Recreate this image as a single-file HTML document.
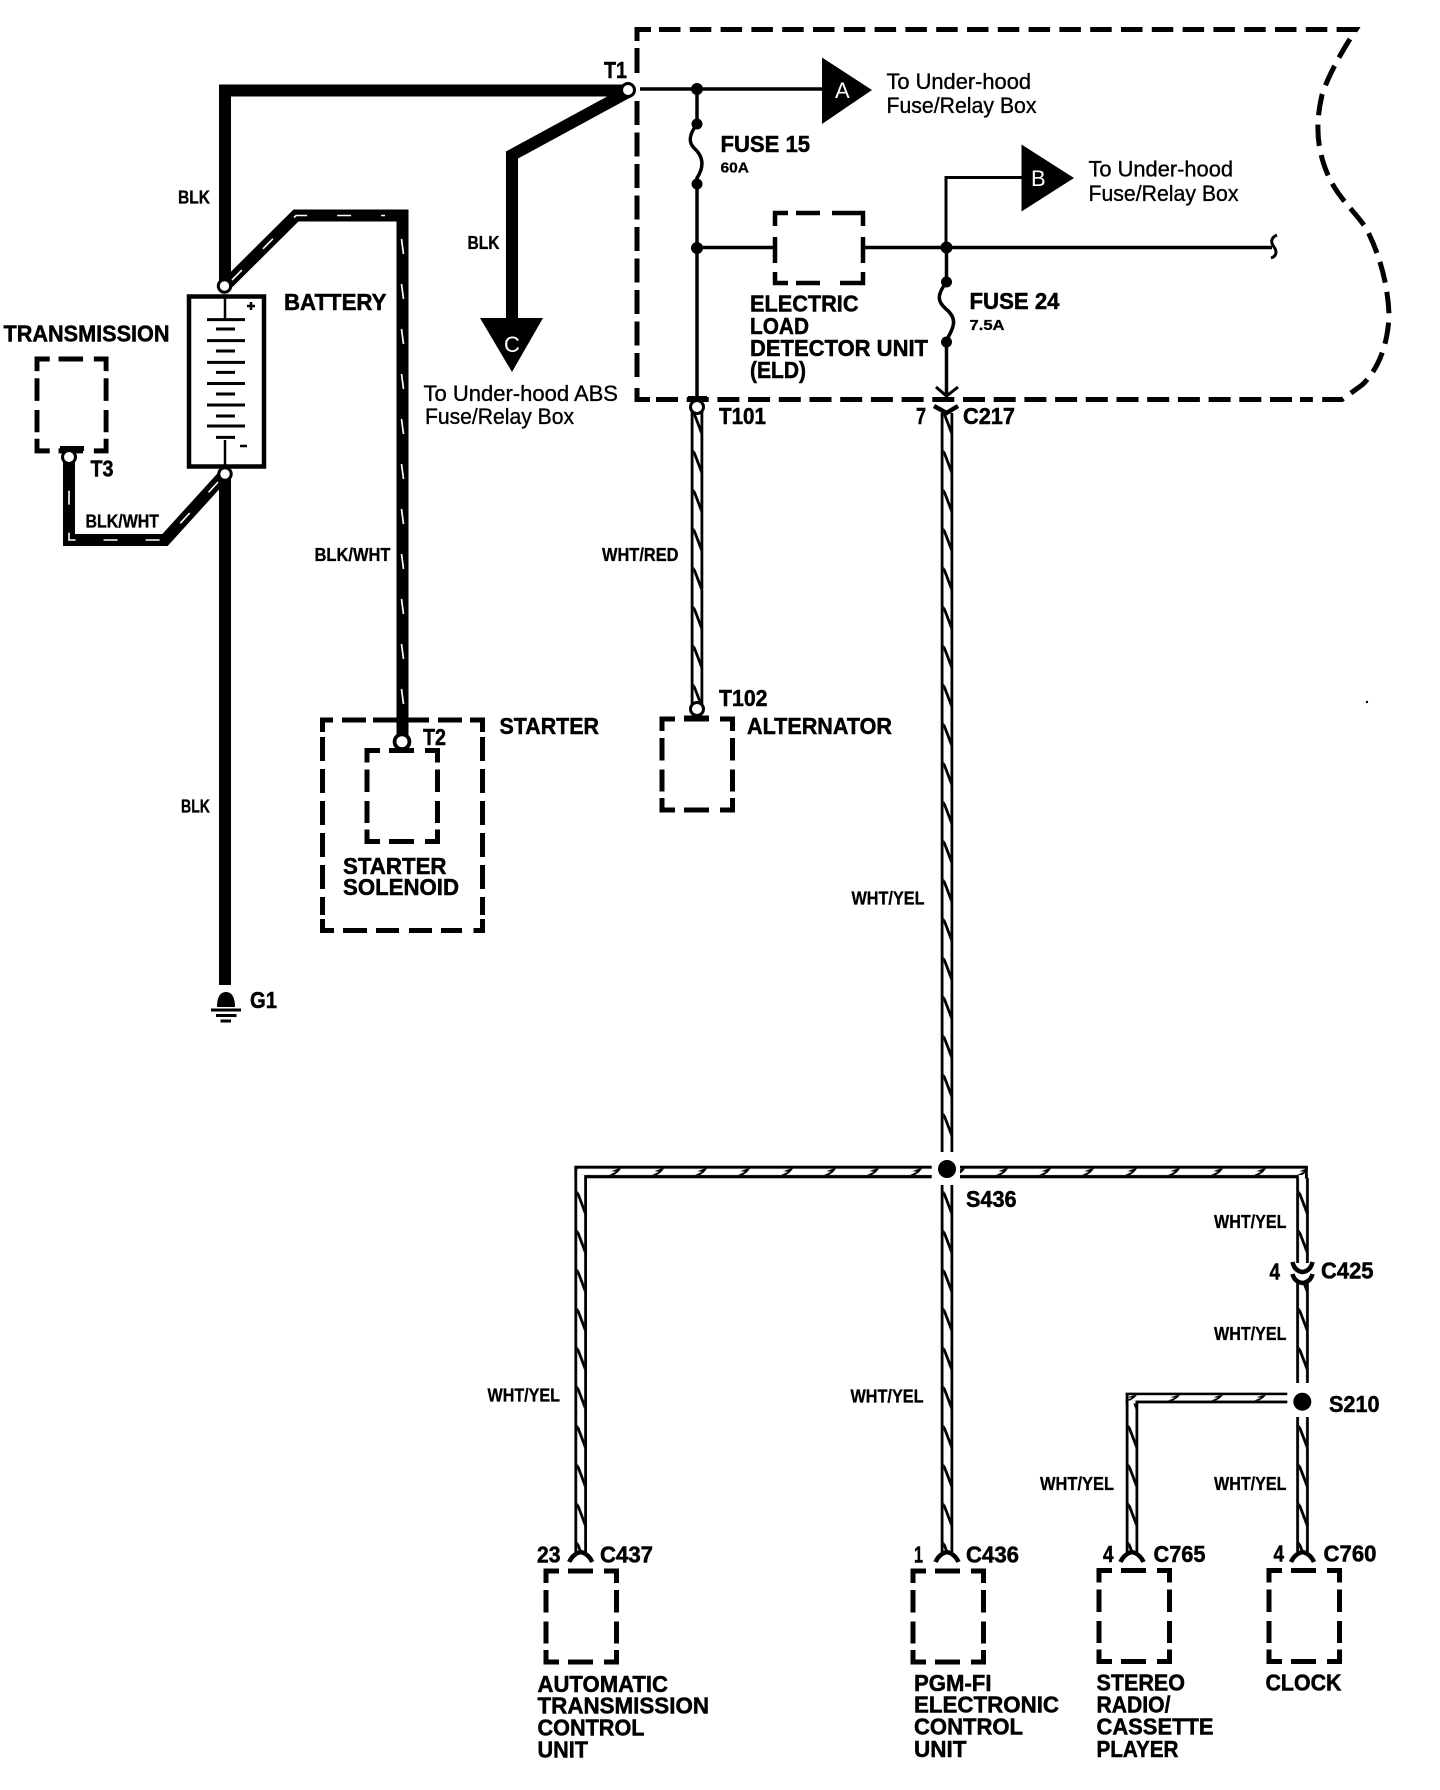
<!DOCTYPE html>
<html><head><meta charset="utf-8"><title>Charging and power distribution wiring diagram</title>
<style>
html,body{margin:0;padding:0;background:#fff}
svg{display:block}
text{font-family:"Liberation Sans",Arial,sans-serif;fill:#000}
.b{font-weight:700;font-size:23px;stroke:#000;stroke-width:.5;}
.s{font-weight:700;font-size:18px;stroke:#000;stroke-width:.3;}
.r{font-size:22px;stroke:#000;stroke-width:.35;}
.w{fill:none;stroke:#000;stroke-linejoin:miter}
.t{fill:#fff;stroke:#000;stroke-width:3}
</style></head><body>
<svg xmlns="http://www.w3.org/2000/svg" width="1440" height="1790" viewBox="0 0 1440 1790">
<defs>
<pattern id="pv" x="-6.3" y="15.7" width="12.6" height="39" patternUnits="userSpaceOnUse">
<rect width="12.6" height="39" fill="#fff"/>
<rect width="2.8" height="39" fill="#000"/><rect x="9.8" width="2.8" height="39" fill="#000"/>
<path d="M2.8 5L5 8L10 21V29L7 21L2.8 10Z" fill="#000"/>
</pattern>
<pattern id="ph" x="38" y="-6.3" width="43" height="12.6" patternUnits="userSpaceOnUse">
<rect width="43" height="12.6" fill="#fff"/>
<rect width="43" height="3" fill="#000"/><rect y="9.3" width="43" height="3.3" fill="#000"/>
<path d="M12 9.3L19 6L14.5 5.5L21 3H24L21 6.5L17 9.3Z" fill="#000"/>
</pattern>
<pattern id="pk" x="-6" y="8" width="12" height="45" patternUnits="userSpaceOnUse">
<rect width="12" height="45" fill="#000"/>
<path d="M5 6L7 21" stroke="#fff" stroke-width="1.7"/>
</pattern>
<g id="box" fill="none" stroke="#000" stroke-width="5">
<path d="M0 12V0H13M22 0H47M58 0H70.5V12M0 19V41.5M0 50.5V72.5M70.5 19V41.5M70.5 50.5V72.5M0 79V91H13M22 91H47M58 91H70.5V79"/>
</g>
<path id="arch" d="M-11.5 10Q-8 2 0 0Q8 2 11.5 10" fill="none" stroke="#000" stroke-width="4.5"/>
</defs>

<!-- frame -->
<g fill="none" stroke="#000" stroke-width="5">
<path d="M637 41V29.5H651M637 48V73M637 388V399.5H650"/>
<path d="M637 101V378" stroke-dasharray="24 7.5"/>
<path d="M659 29.5H1356C1348 42 1330 70 1322 95C1315 125 1317 150 1328 175C1338 198 1352 208 1366 228C1380 255 1388 285 1389 315C1388 345 1378 370 1362 385L1342 399.5H1300" stroke-dasharray="21.5 9.3"/>
<path d="M656 399.5H1296" stroke-dasharray="22 8.7"/>
</g>

<!-- heavy black wires -->
<path class="w" stroke-width="12" d="M225 286V90.5H628"/>
<path class="w" stroke-width="12" d="M628 92L512 155V320"/>
<path d="M480 318H543L512 372Z" fill="#000"/>
<path class="w" stroke-width="12" d="M225 474V985"/>

<!-- BLK/WHT wires -->
<path class="w" stroke-width="12" d="M225 286L296 215.5H402.5V735"/>
<g transform="translate(402.5,0)"><rect x="-6" y="230" width="12" height="500" fill="url(#pk)"/></g>
<path fill="none" stroke="#fff" stroke-width="1.6" stroke-dasharray="14 30" d="M232 280L296 215.5H385"/>
<path class="w" stroke-width="12" d="M225 474L165 540H69V457"/>
<path fill="none" stroke="#fff" stroke-width="1.6" stroke-dasharray="14 28" d="M218 482L165 540H69V470"/>

<!-- battery -->
<rect x="189" y="296.5" width="75" height="170" fill="#fff" stroke="#000" stroke-width="4.5"/>
<path d="M225 296V319M225 440V469" stroke="#000" stroke-width="2.5" fill="none"/>
<path d="M207 319.6H245M207 340.6H245M207 362.4H245M207 383.5H245M207 405H245M207 426H245M216 329H235M216 351H235M216 372.4H235M216 394H235M216 416H235M216 437.4H235" stroke="#000" stroke-width="3" fill="none"/>
<path d="M251 302V310M247 306H255M240 446H247" stroke="#000" stroke-width="2.5" fill="none"/>
<circle class="t" cx="224.5" cy="286" r="6.2"/>
<circle class="t" cx="225" cy="474" r="6.2"/>

<!-- transmission -->
<use href="#box" transform="translate(37,359)scale(.98,1.01)"/>
<rect x="60" y="446" width="24" height="5" fill="#000"/>
<circle class="t" cx="69" cy="457" r="6.5"/>

<!-- ground -->
<path d="M217 1007C217 996 221 992 226 992S235 996 235 1007Z" fill="#000"/>
<path d="M211 1010H241M216 1015.5H236.5M220.5 1021H231" stroke="#000" stroke-width="3" fill="none"/>

<!-- thin circuits -->
<path class="w" stroke-width="3.5" d="M640 89H824"/>
<path class="w" stroke-width="3.5" d="M697 89V124C688 136 689 143 694 148C704 157 704 167 697 178V400"/>
<path d="M822 57.5L872 90L822 124Z" fill="#000"/>
<path class="w" stroke-width="3.5" d="M697 247.5H773M865 247.5H1272"/>
<path class="w" stroke-width="3" d="M946 247V177.5H1023"/>
<path d="M1021.5 144.5L1074 178L1021.5 211.5Z" fill="#000"/>
<path class="w" stroke-width="3.5" d="M946.5 247V282C936 296 938 302 946 309C957 318 955 326 946.5 340V396"/>
<path class="w" stroke-width="3" d="M936 387L946.5 396L958 387"/>
<path d="M1277 235C1270 238 1271 243 1274 247S1277 256 1271 258" fill="none" stroke="#000" stroke-width="3"/>
<circle cx="697" cy="89" r="6"/><circle cx="697" cy="124" r="5.5"/><circle cx="697" cy="184" r="5.5"/><circle cx="697" cy="248" r="6"/>
<circle cx="946.5" cy="247.5" r="6"/><circle cx="946.5" cy="282" r="5.5"/><circle cx="946.5" cy="342" r="5.5"/>
<circle class="t" cx="628" cy="90" r="6.5"/>
<text x="835" y="98" font-size="22" style="fill:#fff;font-family:'Liberation Sans',sans-serif">A</text>
<text x="1031" y="186" font-size="22" style="fill:#fff;font-family:'Liberation Sans',sans-serif">B</text>
<text x="504" y="352" font-size="22" style="fill:#fff;font-family:'Liberation Sans',sans-serif">C</text>

<!-- ELD box -->
<path d="M775 226V213H788M796 213H820M832 213H852H863V226M775 237V263M863 237V263M775 272V283H788M796 283H820M840 283H863V272" fill="none" stroke="#000" stroke-width="4.5"/>

<!-- striped wires vertical -->
<g transform="translate(697,0)"><rect x="-6.3" y="412" width="12.6" height="292" fill="url(#pv)"/></g>
<g transform="translate(947,0)"><rect x="-6.3" y="413" width="12.6" height="739" fill="url(#pv)"/><rect x="-6.3" y="1185" width="12.6" height="367" fill="url(#pv)"/></g>
<g transform="translate(580.7,0)"><rect x="-6.3" y="1178" width="12.6" height="374" fill="url(#pv)"/></g>
<g transform="translate(1302.5,0)"><rect x="-6.3" y="1178" width="12.6" height="85" fill="url(#pv)"/><rect x="-6.3" y="1283" width="12.6" height="100" fill="url(#pv)"/><rect x="-6.3" y="1417" width="12.6" height="135" fill="url(#pv)"/></g>
<g transform="translate(1132,0)"><rect x="-6.3" y="1398" width="12.6" height="154" fill="url(#pv)"/></g>
<!-- striped wires horizontal -->
<g transform="translate(0,1172)"><rect x="574.4" y="-6.3" width="357.3" height="12.6" fill="url(#ph)"/><rect x="960" y="-6.3" width="347.8" height="12.6" fill="url(#ph)"/></g>
<rect x="574.4" y="1166" width="2.8" height="12.5" fill="#000"/><rect x="577.2" y="1175" width="7" height="3.5" fill="#fff"/>
<rect x="1305" y="1166" width="2.8" height="12.5" fill="#000"/><rect x="1298.8" y="1175" width="6.2" height="3.5" fill="#fff"/>
<g transform="translate(0,1398)scale(1,.85)"><rect x="1125.7" y="-6.3" width="161.6" height="12.6" fill="url(#ph)"/></g>
<rect x="1125.7" y="1393" width="2.8" height="10" fill="#000"/><rect x="1128.5" y="1400.5" width="7" height="3" fill="#fff"/>

<!-- splices -->
<circle cx="947" cy="1169" r="9"/><circle cx="1302.3" cy="1401.7" r="9"/>

<!-- terminals on lower ends -->
<rect x="688" y="396" width="19" height="6" fill="#000"/>
<circle class="t" cx="697" cy="407" r="6.5"/>
<path d="M934 406L946.5 413L958 406" fill="none" stroke="#000" stroke-width="4.5"/>
<circle class="t" cx="697" cy="709" r="6.5" stroke-width="3.2"/>
<rect x="684" y="715.5" width="25" height="5" fill="#000"/>

<!-- starter -->
<g fill="none" stroke="#000" stroke-width="5">
<path d="M322.5 732V720H333M342 720H366M373 720H429M438 720H462M470 720H482.5V732M322.5 919V930.5H334M343 930.5H367M376 930.5H399M409 930.5H432M441 930.5H462M473.5 930.5H482.5V919"/>
<path d="M322.5 737V915M482.5 737V915" stroke-dasharray="24 8"/>
</g>
<circle cx="402" cy="741.7" r="7.4" fill="#fff" stroke="#000" stroke-width="3.8"/>
<use href="#box" transform="translate(367,750.5)"/>
<use href="#box" transform="translate(662,719)scale(1,1)"/>

<!-- bottom boxes and connectors -->
<use href="#box" transform="translate(546,1571)"/>
<use href="#box" transform="translate(913,1571)"/>
<use href="#box" transform="translate(1099,1570.5)"/>
<use href="#box" transform="translate(1269,1570.5)"/>
<use href="#arch" transform="translate(580.7,1552)"/>
<use href="#arch" transform="translate(947,1552)"/>
<use href="#arch" transform="translate(1132,1552)"/>
<use href="#arch" transform="translate(1302.5,1552)"/>
<path d="M1292.5 1262Q1294.5 1271 1302.5 1272Q1310.5 1271 1312.5 1262M1292.5 1274Q1294.5 1282 1302.5 1283Q1310.5 1282 1312.5 1274" fill="none" stroke="#000" stroke-width="4.5"/>

<circle cx="1367" cy="702" r="1.2"/>

<!-- labels -->
<text class="b" x="604" y="78" textLength="23" lengthAdjust="spacingAndGlyphs">T1</text>
<text class="s" x="178" y="203.5" textLength="32" lengthAdjust="spacingAndGlyphs">BLK</text>
<text class="s" x="467.5" y="249" textLength="32" lengthAdjust="spacingAndGlyphs">BLK</text>
<text class="b" x="284" y="310" textLength="102.5" lengthAdjust="spacingAndGlyphs">BATTERY</text>
<text class="b" x="3.5" y="341.5" textLength="166" lengthAdjust="spacingAndGlyphs">TRANSMISSION</text>
<text class="b" x="90.5" y="476.5" textLength="23" lengthAdjust="spacingAndGlyphs">T3</text>
<text class="s" x="85.5" y="527.5" textLength="73.5" lengthAdjust="spacingAndGlyphs">BLK/WHT</text>
<text class="s" x="314.5" y="561" textLength="76" lengthAdjust="spacingAndGlyphs">BLK/WHT</text>
<text class="s" x="602" y="561" textLength="76.5" lengthAdjust="spacingAndGlyphs">WHT/RED</text>
<text class="r" x="423.5" y="401" textLength="194.5" lengthAdjust="spacingAndGlyphs">To Under-hood ABS</text>
<text class="r" x="425" y="424" textLength="149" lengthAdjust="spacingAndGlyphs">Fuse/Relay Box</text>
<text class="r" x="886.5" y="89" textLength="144.5" lengthAdjust="spacingAndGlyphs">To Under-hood</text>
<text class="r" x="886.5" y="113" textLength="150" lengthAdjust="spacingAndGlyphs">Fuse/Relay Box</text>
<text class="r" x="1088.5" y="176.5" textLength="144.5" lengthAdjust="spacingAndGlyphs">To Under-hood</text>
<text class="r" x="1088.5" y="201" textLength="150" lengthAdjust="spacingAndGlyphs">Fuse/Relay Box</text>
<text class="b" x="720.5" y="152" textLength="89.5" lengthAdjust="spacingAndGlyphs">FUSE 15</text>
<text class="s" x="720.5" y="172.5" textLength="28.5" lengthAdjust="spacingAndGlyphs" style="font-size:15px">60A</text>
<text class="b" x="750" y="311.5" textLength="108.5" lengthAdjust="spacingAndGlyphs">ELECTRIC</text>
<text class="b" x="750" y="334" textLength="59" lengthAdjust="spacingAndGlyphs">LOAD</text>
<text class="b" x="750" y="356" textLength="178" lengthAdjust="spacingAndGlyphs">DETECTOR UNIT</text>
<text class="b" x="750" y="378" textLength="56" lengthAdjust="spacingAndGlyphs">(ELD)</text>
<text class="b" x="969.5" y="309" textLength="90" lengthAdjust="spacingAndGlyphs">FUSE 24</text>
<text class="s" x="969.5" y="330" textLength="35" lengthAdjust="spacingAndGlyphs" style="font-size:15px">7.5A</text>
<text class="b" x="719" y="424" textLength="47" lengthAdjust="spacingAndGlyphs">T101</text>
<text class="b" x="916" y="424" textLength="10" lengthAdjust="spacingAndGlyphs">7</text>
<text class="b" x="963" y="424" textLength="52" lengthAdjust="spacingAndGlyphs">C217</text>
<text class="b" x="719" y="706" textLength="48.5" lengthAdjust="spacingAndGlyphs">T102</text>
<text class="b" x="747" y="734" textLength="145" lengthAdjust="spacingAndGlyphs">ALTERNATOR</text>
<text class="b" x="499.5" y="734" textLength="99.5" lengthAdjust="spacingAndGlyphs">STARTER</text>
<text class="b" x="423" y="745" textLength="23" lengthAdjust="spacingAndGlyphs">T2</text>
<text class="b" x="343" y="874" textLength="103.5" lengthAdjust="spacingAndGlyphs">STARTER</text>
<text class="b" x="343" y="895" textLength="116" lengthAdjust="spacingAndGlyphs">SOLENOID</text>
<text class="s" x="181" y="812.5" textLength="29" lengthAdjust="spacingAndGlyphs">BLK</text>
<text class="b" x="250" y="1008" textLength="27" lengthAdjust="spacingAndGlyphs">G1</text>
<text class="s" x="851.5" y="904.5" textLength="73" lengthAdjust="spacingAndGlyphs">WHT/YEL</text>
<text class="b" x="966" y="1207" textLength="50.5" lengthAdjust="spacingAndGlyphs">S436</text>
<text class="s" x="1214" y="1228" textLength="72.5" lengthAdjust="spacingAndGlyphs">WHT/YEL</text>
<text class="b" x="1269.5" y="1279.5" textLength="10.5" lengthAdjust="spacingAndGlyphs">4</text>
<text class="b" x="1321" y="1278.5" textLength="52.5" lengthAdjust="spacingAndGlyphs">C425</text>
<text class="s" x="1214" y="1340" textLength="72.5" lengthAdjust="spacingAndGlyphs">WHT/YEL</text>
<text class="b" x="1329" y="1412" textLength="50.5" lengthAdjust="spacingAndGlyphs">S210</text>
<text class="s" x="487.5" y="1401.5" textLength="72.5" lengthAdjust="spacingAndGlyphs">WHT/YEL</text>
<text class="s" x="850.5" y="1402.5" textLength="73" lengthAdjust="spacingAndGlyphs">WHT/YEL</text>
<text class="s" x="1040" y="1490" textLength="74" lengthAdjust="spacingAndGlyphs">WHT/YEL</text>
<text class="s" x="1214" y="1490" textLength="72.5" lengthAdjust="spacingAndGlyphs">WHT/YEL</text>
<text class="b" x="537" y="1562.5" textLength="23.5" lengthAdjust="spacingAndGlyphs">23</text>
<text class="b" x="600" y="1562.5" textLength="53" lengthAdjust="spacingAndGlyphs">C437</text>
<text class="b" x="914" y="1562.5" textLength="9" lengthAdjust="spacingAndGlyphs">1</text>
<text class="b" x="966" y="1562.5" textLength="53" lengthAdjust="spacingAndGlyphs">C436</text>
<text class="b" x="1103" y="1562" textLength="10.5" lengthAdjust="spacingAndGlyphs">4</text>
<text class="b" x="1153.5" y="1562" textLength="52" lengthAdjust="spacingAndGlyphs">C765</text>
<text class="b" x="1273.5" y="1561.5" textLength="10.5" lengthAdjust="spacingAndGlyphs">4</text>
<text class="b" x="1323.5" y="1561.5" textLength="53" lengthAdjust="spacingAndGlyphs">C760</text>
<text class="b" x="537.5" y="1692" textLength="130.5" lengthAdjust="spacingAndGlyphs">AUTOMATIC</text>
<text class="b" x="537.5" y="1713.5" textLength="171.5" lengthAdjust="spacingAndGlyphs">TRANSMISSION</text>
<text class="b" x="537.5" y="1735.5" textLength="107" lengthAdjust="spacingAndGlyphs">CONTROL</text>
<text class="b" x="537.5" y="1757.5" textLength="50.5" lengthAdjust="spacingAndGlyphs">UNIT</text>
<text class="b" x="914" y="1691" textLength="77.5" lengthAdjust="spacingAndGlyphs">PGM-FI</text>
<text class="b" x="914" y="1712.5" textLength="145" lengthAdjust="spacingAndGlyphs">ELECTRONIC</text>
<text class="b" x="914" y="1734.5" textLength="109" lengthAdjust="spacingAndGlyphs">CONTROL</text>
<text class="b" x="914" y="1757" textLength="52.5" lengthAdjust="spacingAndGlyphs">UNIT</text>
<text class="b" x="1096.5" y="1690.5" textLength="88.5" lengthAdjust="spacingAndGlyphs">STEREO</text>
<text class="b" x="1096.5" y="1712.5" textLength="74" lengthAdjust="spacingAndGlyphs">RADIO/</text>
<text class="b" x="1096.5" y="1734.5" textLength="117" lengthAdjust="spacingAndGlyphs">CASSETTE</text>
<text class="b" x="1096.5" y="1757" textLength="82" lengthAdjust="spacingAndGlyphs">PLAYER</text>
<text class="b" x="1265.5" y="1690.5" textLength="76" lengthAdjust="spacingAndGlyphs">CLOCK</text>
</svg>
</body></html>
